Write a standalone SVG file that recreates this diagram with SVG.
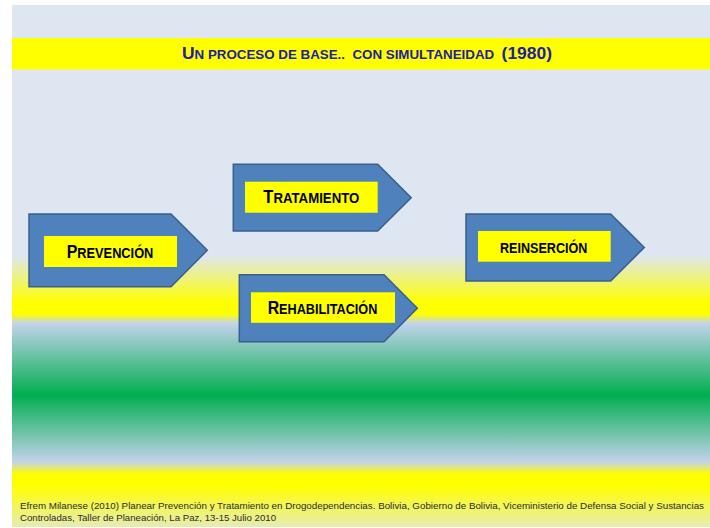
<svg xmlns="http://www.w3.org/2000/svg" width="710" height="528" viewBox="0 0 710 528">
  <defs>
    <linearGradient id="bg" gradientUnits="userSpaceOnUse" x1="0" y1="0" x2="0" y2="528">
      <stop offset="0" stop-color="#DEE6F2"/>
      <stop offset="0.483" stop-color="#DEE6F2"/>
      <stop offset="0.574" stop-color="#FFFF00"/>
      <stop offset="0.595" stop-color="#FFFF00"/>
      <stop offset="0.612" stop-color="#C3D3EB"/>
      <stop offset="0.748" stop-color="#00AE50"/>
      <stop offset="0.875" stop-color="#C3D3EB"/>
      <stop offset="0.898" stop-color="#FFFF00"/>
      <stop offset="0.92" stop-color="#FFFF00"/>
      <stop offset="1" stop-color="#E6EBB8"/>
    </linearGradient>
    <style>
      .arrow { fill: #4F81BD; stroke: #3A5F8C; stroke-width: 1.5; }
      .label { fill: #FFFF00; }
      .lt { font-family: "Liberation Sans", Arial, sans-serif; font-weight: bold; fill: #000000; text-anchor: middle; }
      .title { font-family: "Liberation Sans", Arial, sans-serif; font-weight: bold; fill: #2020A0; white-space: pre; }
      .foot { font-family: "Liberation Sans", Arial, sans-serif; font-size: 9.5px; fill: #2B2B2B; }
    </style>
  </defs>

  <rect x="0" y="0" width="710" height="528" fill="#FFFFFF"/>
  <rect x="12" y="5" width="698" height="522" fill="url(#bg)"/>

  <g id="title">
    <rect x="12" y="38" width="698" height="31.5" fill="#FFFF00"/>
    <text class="title" x="182" y="59" textLength="370" lengthAdjust="spacingAndGlyphs"><tspan font-size="17">U</tspan><tspan font-size="13">N PROCESO DE BASE..  CON SIMULTANEIDAD  </tspan><tspan font-size="17">(1980)</tspan></text>
  </g>

  <g id="prevencion">
    <path class="arrow" d="M29,214 L171,214 L207.3,250.3 L171,286.7 L29,286.7 Z"/>
    <rect class="label" x="44" y="236" width="133" height="31"/>
    <text class="lt" x="110" y="258.3" textLength="86.7" lengthAdjust="spacingAndGlyphs"><tspan font-size="17.5">P</tspan><tspan font-size="14">REVENCIÓN</tspan></text>
  </g>

  <g id="tratamiento">
    <path class="arrow" d="M233.3,164.3 L377.7,164.3 L411.2,197.7 L377.7,231 L233.3,231 Z"/>
    <rect class="label" x="245" y="181.7" width="132.7" height="31"/>
    <text class="lt" x="311.3" y="203.3" textLength="96" lengthAdjust="spacingAndGlyphs"><tspan font-size="17.5">T</tspan><tspan font-size="14">RATAMIENTO</tspan></text>
  </g>

  <g id="rehabilitacion">
    <path class="arrow" d="M239.3,274.7 L384,274.7 L417.3,308.2 L384,341.7 L239.3,341.7 Z"/>
    <rect class="label" x="251" y="292.3" width="144" height="30.5"/>
    <text class="lt" x="322.5" y="314" textLength="109.6" lengthAdjust="spacingAndGlyphs"><tspan font-size="17.5">R</tspan><tspan font-size="14">EHABILITACIÓN</tspan></text>
  </g>

  <g id="reinsercion">
    <path class="arrow" d="M466,214 L610.7,214 L644.3,247.5 L610.7,281 L466,281 Z"/>
    <rect class="label" x="478" y="231" width="132.7" height="30.7"/>
    <text class="lt" x="543.7" y="252.7" font-size="14" textLength="87.3" lengthAdjust="spacingAndGlyphs">REINSERCIÓN</text>
  </g>

  <g id="connectors"></g>

  <g id="footer">
    <text class="foot" x="20" y="508.5" textLength="684" lengthAdjust="spacingAndGlyphs">Efrem Milanese (2010) Planear Prevención y Tratamiento en Drogodependencias. Bolivia, Gobierno de Bolivia, Viceministerio de Defensa Social y Sustancias</text>
    <text class="foot" x="20" y="520.5" textLength="256" lengthAdjust="spacingAndGlyphs">Controladas, Taller de Planeación, La Paz, 13-15 Julio 2010</text>
  </g>
</svg>
